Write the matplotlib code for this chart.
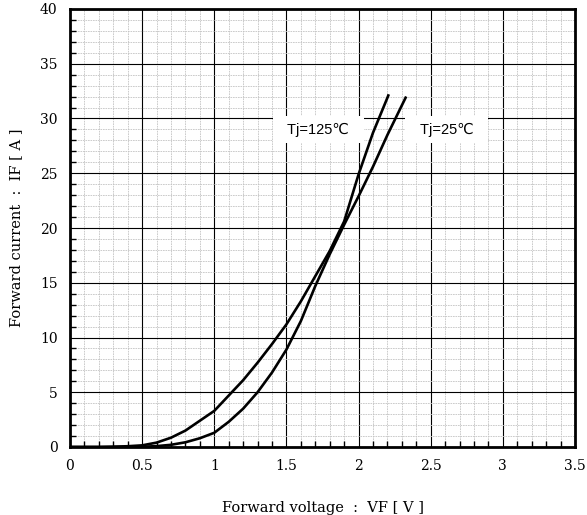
import matplotlib
matplotlib.use("Agg")
import matplotlib.pyplot as plt
from matplotlib.ticker import MultipleLocator, FixedLocator

# Data
vf_125 = [0.0, 0.2, 0.3, 0.4, 0.5, 0.6, 0.7, 0.8, 0.9, 1.0, 1.1, 1.2, 1.3, 1.4,
          1.5, 1.6, 1.7, 1.8, 1.9, 2.0, 2.1, 2.2, 2.206]
if_125 = [0.0, 0.0, 0.03, 0.07, 0.15, 0.4, 0.85, 1.5, 2.4, 3.3, 4.7, 6.1, 7.7, 9.4,
          11.2, 13.3, 15.6, 17.9, 20.6, 24.9, 28.7, 31.9, 32.1]

vf_25 = [0.0, 0.4, 0.5, 0.6, 0.7, 0.8, 0.9, 1.0, 1.1, 1.2, 1.3, 1.4, 1.5, 1.6,
         1.7, 1.8, 1.9, 2.0, 2.1, 2.2, 2.3, 2.326]
if_25 = [0.0, 0.0, 0.02, 0.08, 0.2, 0.43, 0.8, 1.3, 2.3, 3.5, 5.0, 6.8, 8.9, 11.5,
         14.7, 17.6, 20.3, 22.9, 25.6, 28.5, 31.2, 31.9]

labels = ["Tj=125\u2103", "Tj=25\u2103"]
label_pos = [(1.45, 29.0), (2.37, 29.0)]

xlim = (0, 3.5)
ylim = (0, 40)
x_major = [0, 0.5, 1, 1.5, 2, 2.5, 3, 3.5]
x_major_labels = ["0", "0.5", "1", "1.5", "2", "2.5", "3", "3.5"]
y_major = list(range(0, 41, 5))
x_minor = [i / 10 for i in range(36) if i % 5]
y_minor = [i for i in range(41) if i % 5]

fig = plt.figure(figsize=(5.87, 5.15), dpi=100)
ax = fig.add_axes([70/587, 1-447/515, (575-70)/587, (447-9)/515])

ax.set_xlim(*xlim)
ax.set_ylim(*ylim)
ax.xaxis.set_minor_locator(FixedLocator(x_minor))
ax.yaxis.set_minor_locator(FixedLocator(y_minor))

ax.grid(which="minor", color="#c4c4c4", linestyle=(0, (2.0, 1.0)), linewidth=0.6)
ax.grid(which="major", color="black", linestyle="-", linewidth=0.8)
ax.set_axisbelow(True)

ax.plot(vf_125, if_125, color="black", linewidth=1.9, zorder=3)
ax.plot(vf_25, if_25, color="black", linewidth=1.9, zorder=3)

for lab, (x, y) in zip(labels, label_pos):
    ax.text(x, y, "  " + lab + "  ", fontsize=10.5, family=["Liberation Sans", "DejaVu Sans"],
            va="center", ha="left", zorder=2,
            bbox=dict(boxstyle="square,pad=0.45", facecolor="white", edgecolor="none"))

for s in ax.spines.values():
    s.set_linewidth(2.0)
    s.set_zorder(4)

ax.tick_params(which="both", direction="in", top=False, right=False)
ax.tick_params(which="major", length=0, pad=9)
ax.tick_params(which="minor", length=4, width=1.0)

tick_font = dict(family="DejaVu Serif", size=10)
ax.set_xticks(x_major)
ax.set_xticklabels(x_major_labels, **tick_font)
ax.set_yticks(y_major)
ax.set_yticklabels([str(v) for v in y_major], **tick_font)

ax.set_xlabel("Forward voltage  :  VF [ V ]", family="DejaVu Serif", fontsize=10.5, labelpad=20)
ax.set_ylabel("Forward current  :  IF [ A ]", family="DejaVu Serif", fontsize=10.5, labelpad=12)

fig.savefig("out.png", dpi=100)
